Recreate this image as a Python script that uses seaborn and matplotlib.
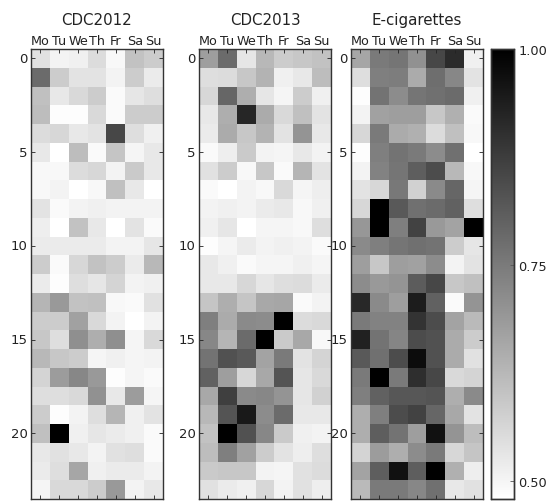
import matplotlib
matplotlib.use("Agg")
import matplotlib.pyplot as plt
import numpy as np
import seaborn as sns

dias = ["Mo", "Tu", "We", "Th", "Fr", "Sa", "Su"]
horas_ticks = [0, 5, 10, 15, 20]
cbar_ticks = [0.5, 0.75, 1.0]
cbar_labels = ["0.50", "0.75", "1.00"]
VMIN = 0.479
VMAX = 1.0

# values, as percent of the colour range VMIN - VMAX
cdc2012 = [
    [12, 5, 6, 14, 3, 24, 20],
    [58, 20, 11, 11, 5, 20, 8],
    [25, 9, 15, 20, 2, 10, 13],
    [26, 1, 1, 15, 2, 20, 20],
    [14, 16, 9, 11, 72, 13, 6],
    [9, 0, 26, 2, 23, 4, 9],
    [3, 3, 14, 16, 5, 21, 9],
    [3, 5, 0, 3, 25, 9, 0],
    [11, 2, 5, 6, 5, 5, 5],
    [7, 0, 24, 9, 0, 11, 2],
    [8, 8, 8, 8, 5, 5, 10],
    [20, 2, 16, 24, 20, 8, 28],
    [8, 1, 13, 10, 17, 5, 6],
    [29, 40, 24, 25, 3, 2, 12],
    [20, 20, 37, 15, 5, 0, 5],
    [22, 13, 44, 32, 44, 4, 15],
    [28, 22, 20, 4, 6, 4, 5],
    [17, 39, 47, 40, 1, 4, 2],
    [13, 13, 15, 43, 9, 39, 4],
    [20, 1, 5, 13, 29, 6, 11],
    [25, 100, 6, 10, 8, 6, 2],
    [9, 12, 9, 5, 12, 13, 2],
    [8, 13, 35, 6, 8, 8, 5],
    [4, 15, 15, 20, 40, 5, 9],
]
cdc2013 = [
    [38, 58, 10, 28, 20, 22, 24],
    [13, 14, 22, 30, 6, 9, 26],
    [16, 60, 32, 10, 4, 20, 6],
    [9, 32, 85, 33, 15, 25, 11],
    [8, 33, 22, 30, 11, 42, 9],
    [2, 7, 21, 5, 4, 9, 5],
    [12, 20, 3, 22, 2, 29, 11],
    [2, 0, 5, 3, 15, 4, 7],
    [5, 6, 5, 8, 9, 3, 6],
    [6, 10, 0, 4, 4, 3, 13],
    [1, 4, 8, 5, 6, 5, 2],
    [9, 6, 2, 4, 4, 6, 4],
    [9, 9, 16, 10, 13, 14, 8],
    [23, 32, 23, 34, 35, 2, 5],
    [50, 33, 46, 45, 100, 14, 15],
    [47, 29, 58, 100, 21, 34, 3],
    [55, 68, 65, 36, 52, 11, 17],
    [62, 38, 16, 34, 67, 10, 15],
    [34, 75, 46, 47, 42, 10, 18],
    [28, 67, 90, 45, 58, 9, 9],
    [24, 100, 68, 47, 21, 6, 5],
    [26, 50, 37, 20, 11, 7, 13],
    [21, 22, 22, 5, 4, 12, 14],
    [12, 8, 6, 16, 5, 12, 7],
]
ecigs = [
    [35, 52, 54, 43, 72, 83, 6],
    [13, 50, 51, 33, 57, 47, 11],
    [1, 55, 45, 54, 56, 58, 6],
    [5, 37, 38, 38, 22, 31, 2],
    [16, 52, 33, 31, 14, 25, 3],
    [1, 50, 55, 52, 45, 56, 0],
    [5, 49, 54, 63, 70, 28, 3],
    [11, 16, 53, 18, 46, 60, 4],
    [16, 100, 65, 56, 58, 62, 13],
    [41, 100, 50, 74, 40, 36, 100],
    [46, 50, 54, 56, 55, 20, 10],
    [38, 22, 38, 37, 45, 5, 11],
    [45, 40, 42, 64, 72, 22, 25],
    [84, 46, 38, 89, 62, 2, 42],
    [52, 49, 49, 80, 70, 36, 27],
    [87, 55, 48, 70, 68, 33, 20],
    [65, 56, 70, 95, 68, 33, 12],
    [52, 100, 52, 82, 72, 15, 17],
    [50, 62, 66, 66, 67, 32, 46],
    [32, 50, 70, 74, 60, 34, 11],
    [32, 63, 55, 38, 93, 42, 26],
    [17, 39, 32, 45, 52, 16, 23],
    [36, 63, 93, 63, 100, 31, 7],
    [27, 52, 52, 47, 56, 9, 12],
]

paneles = [("CDC2012", cdc2012), ("CDC2013", cdc2013), ("E-cigarettes", ecigs)]

W, H = 551, 502
fig = plt.figure(figsize=(W / 100, H / 100), dpi=100)
lefts = [31, 199, 351]
cax = fig.add_axes([491 / W, 1 - 500 / H, 23 / W, 450 / H])

for i, (titulo, datos) in enumerate(paneles):
    ax = fig.add_axes([lefts[i] / W, 1 - 500 / H, 132 / W, 450 / H])
    valores = VMIN + np.array(datos) / 100 * (VMAX - VMIN)
    sns.heatmap(valores, ax=ax, vmin=VMIN, vmax=VMAX, cmap="gray_r", cbar=i == 0,
                cbar_ax=cax if i == 0 else None, square=False)
    ax.set_xticks(np.arange(7) + 0.5)
    ax.set_xticklabels(dias, rotation=0, fontsize=9.2, color="#222222")
    ax.set_yticks(np.array(horas_ticks) + 0.5)
    ax.set_yticklabels(horas_ticks, rotation=0, fontsize=9.5, color="#222222")
    ax.xaxis.tick_top()
    ax.tick_params(axis="both", which="both", direction="in", length=3, width=0.6,
                   top=True, bottom=True, left=True, right=True, color="#222222")
    ax.tick_params(axis="x", pad=1.5)
    ax.tick_params(axis="y", pad=2.5)
    for s in ax.spines.values():
        s.set_visible(True)
        s.set_linewidth(1.0)
        s.set_color("#333333")
    ax.set_title(titulo, fontsize=10.8, pad=18, color="#222222")

cax.set_yticks(cbar_ticks)
cax.set_yticklabels(cbar_labels, fontsize=9.3, color="#222222")
cax.tick_params(direction="in", length=3, width=0.6, pad=3, color="#555555")
for s in cax.spines.values():
    s.set_visible(True)
    s.set_linewidth(1.0)
    s.set_color("#333333")

fig.savefig("out.png", dpi=100)
plt.close(fig)
